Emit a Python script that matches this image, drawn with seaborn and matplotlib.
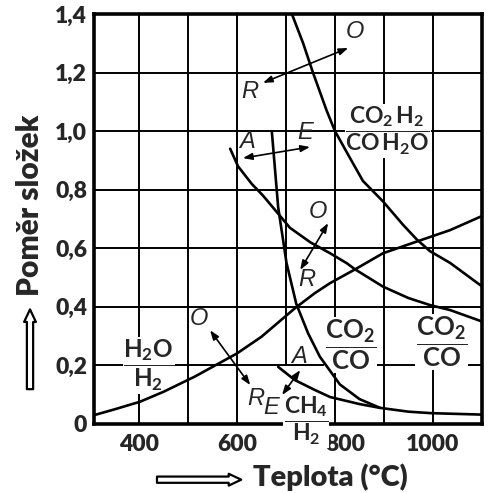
import matplotlib
matplotlib.use("Agg")
import matplotlib.pyplot as plt
import matplotlib.transforms as mtrans
import seaborn as sns
import pandas as pd

# ---------------- data ----------------
# H2O / H2 curve
h2o_t = [310, 350, 402, 450, 514, 600, 650, 718, 759, 790, 841, 898, 967, 1035, 1100]
h2o_r = [0.031, 0.05, 0.076, 0.11, 0.162, 0.241, 0.298, 0.395, 0.447, 0.481, 0.528, 0.583, 0.623, 0.662, 0.71]
# CO2 H2 / CO H2O curve (from top)
shift_t = [712, 735, 755, 783, 800, 830, 857, 898, 939, 967, 994, 1035, 1100]
shift_r = [1.40, 1.30, 1.20, 1.07, 1.00, 0.91, 0.83, 0.76, 0.68, 0.63, 0.59, 0.55, 0.47]
# CO2 / CO curve (from A)
co_t = [586, 602, 630, 653, 708, 750, 790, 824, 841, 898, 950, 994, 1035, 1100]
co_r = [0.94, 0.88, 0.82, 0.78, 0.67, 0.62, 0.583, 0.549, 0.528, 0.469, 0.43, 0.406, 0.389, 0.35]
# CO2 / CO steep curve (from E)
co2_t = [671, 684, 701, 711, 721, 745, 769, 810, 850, 892, 950, 996, 1100]
co2_r = [1.0, 0.74, 0.55, 0.48, 0.41, 0.31, 0.23, 0.135, 0.085, 0.055, 0.042, 0.037, 0.032]
# CH4 / H2 curve
ch4_t = [684, 718, 759, 790, 850, 892]
ch4_r = [0.195, 0.15, 0.116, 0.092, 0.068, 0.055]

x_ticks = [400, 600, 800, 1000]
x_labels = ["400", "600", "800", "1000"]
y_ticks = [0, 0.2, 0.4, 0.6, 0.8, 1.0, 1.2, 1.4]
y_labels = ["0", "0,2", "0,4", "0,6", "0,8", "1,0", "1,2", "1,4"]
v_grid = [400, 500, 600, 800, 900, 1000]
h_grid = [0.2, 0.4, 0.6, 0.8, 1.0, 1.2]

# ---------------- style ----------------
sns.set_style("white")
plt.rcParams["font.family"] = ["Lato", "DejaVu Sans"]
plt.rcParams["mathtext.fontset"] = "custom"
plt.rcParams["mathtext.bf"] = "Lato:bold"
plt.rcParams["mathtext.rm"] = "Lato:bold"
plt.rcParams["mathtext.it"] = "Lato:bold:italic"

fig = plt.figure(figsize=(4.88, 4.93), dpi=100)
ax = fig.add_axes([0.1926, 0.140, 0.795, 0.8316])
ax.set_xlim(308, 1100)
ax.set_ylim(0, 1.4)

# grid
for v in v_grid:
    ax.axvline(v, color="black", lw=1.4, zorder=1)
ax.axvline(700, ymin=0.2 / 1.4, ymax=1, color="black", lw=1.4, zorder=1)
for h in h_grid:
    ax.axhline(h, color="black", lw=1.4, zorder=1)

# curves
for t, r in [(h2o_t, h2o_r), (shift_t, shift_r), (co_t, co_r), (co2_t, co2_r), (ch4_t, ch4_r)]:
    df = pd.DataFrame({"t": t, "r": r})
    sns.lineplot(data=df, x="t", y="r", ax=ax, color="black", lw=1.9,
                 estimator=None, sort=False, zorder=4)

# frame & ticks
for s in ax.spines.values():
    s.set_linewidth(2.6)
    s.set_color("black")
ax.set_xticks(x_ticks)
ax.set_xticklabels(x_labels, fontsize=16.5, fontweight="heavy")
ax.set_yticks(y_ticks)
ax.set_yticklabels(y_labels, fontsize=16.5, fontweight="heavy")
ax.tick_params(length=0, pad=7)
ax.tick_params(axis="y", pad=5)
ax.set_xlabel("")
ax.set_ylabel("")
# the "800" label sits a little to the right of its grid line (room for H2)
lab800 = ax.get_xticklabels()[2]
lab800.set_transform(lab800.get_transform() +
                     mtrans.ScaledTranslation(10 / 100, 0, fig.dpi_scale_trans))

# fraction labels
box = dict(fc="white", ec="none", pad=0.5)
def frac(x, y, s, size=17):
    ax.text(x, y, s, fontsize=size, ha="center", va="center", bbox=box,
            zorder=3, clip_on=False)

frac(908, 1.0, r"$\dfrac{\mathbf{CO_2\,H_2}}{\mathbf{CO\,H_2O}}$", 16.5)
frac(831, 0.27, r"$\dfrac{\mathbf{CO_2}}{\mathbf{CO}}$", 18.5)
frac(1018, 0.28, r"$\dfrac{\mathbf{CO_2}}{\mathbf{CO}}$", 18.5)
frac(420, 0.20, r"$\dfrac{\mathbf{H_2O}}{\mathbf{H_2}}$", 17.5)
frac(741, 0.01, r"$\dfrac{\mathbf{CH_4}}{\mathbf{H_2}}$", 16.5)

# direction arrows with letters
arr = dict(arrowstyle="<|-|>,head_length=0.55,head_width=0.2", color="black", lw=1.2,
           shrinkA=0, shrinkB=0)
def dbl(p1, p2):
    ax.annotate("", xy=p2, xytext=p1, arrowprops=arr, zorder=5)
def letter(x, y, s):
    ax.text(x, y, s, fontsize=17, style="italic", family="Liberation Sans",
            ha="center", va="center", zorder=5)

dbl((653, 1.165), (827, 1.284)); letter(625, 1.135, "R"); letter(840, 1.34, "O")
dbl((612, 0.908), (749, 0.946)); letter(620, 0.965, "A"); letter(739, 0.995, "E")
dbl((729, 0.526), (786, 0.686)); letter(765, 0.725, "O"); letter(743, 0.495, "R")
dbl((545, 0.32), (627, 0.133)); letter(522, 0.36, "O"); letter(639, 0.088, "R")
dbl((729, 0.184), (692, 0.099)); letter(726, 0.232, "A"); letter(669, 0.055, "E")

# axis titles with hollow arrows
fig.text(0.0615, 0.584, "Poměr složek", rotation=90, fontsize=21.5, fontweight="heavy",
         ha="center", va="center")
fig.text(0.678, 0.032, "Teplota (°C)", fontsize=21, fontweight="heavy",
         ha="center", va="center")
hollow = dict(arrowstyle="simple,head_width=0.85,head_length=0.9,tail_width=0.45",
              fc="white", ec="black", lw=1.6)
ax.annotate("", xy=(0.0615, 0.378), xytext=(0.0615, 0.205), xycoords="figure fraction",
            textcoords="figure fraction", arrowprops=hollow, annotation_clip=False)
ax.annotate("", xy=(0.500, 0.027), xytext=(0.316, 0.027), xycoords="figure fraction",
            textcoords="figure fraction", arrowprops=hollow, annotation_clip=False)

fig.savefig("out.png", dpi=100)
